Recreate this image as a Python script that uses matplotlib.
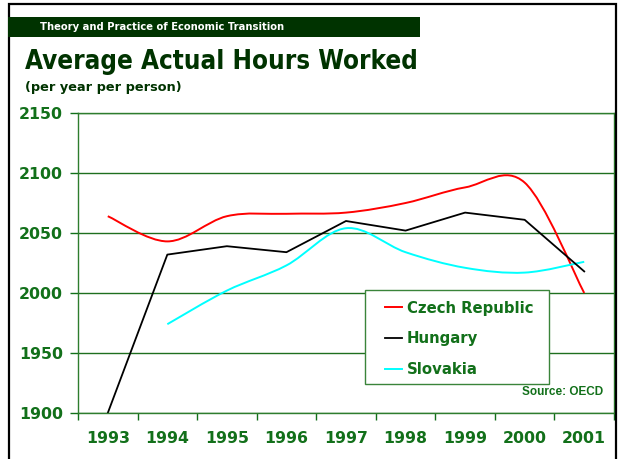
import numpy as np
import matplotlib
matplotlib.use("Agg")
import matplotlib.pyplot as plt
from matplotlib.path import Path
from matplotlib.patches import PathPatch, Rectangle
from matplotlib.lines import Line2D

# data
years = ["1993", "1994", "1995", "1996", "1997", "1998", "1999", "2000", "2001"]
czech = [2064, 2043, 2064, 2066, 2067, 2075, 2088, 2092, 2000]
hungary = [1900, 2032, 2039, 2034, 2060, 2052, 2067, 2061, 2018]
slovakia_years = ["1994", "1995", "1996", "1997", "1998", "1999", "2000", "2001"]
slovakia = [1974, 2002, 2023, 2054, 2034, 2021, 2017, 2026]

GREEN = "#12701a"
DARK = "#003300"


def smooth_path(xs, ys):
    # excel style smoothed line: cubic bezier through every point
    p = np.column_stack([xs, ys]).astype(float)
    n = len(p)
    verts = [p[0]]
    codes = [Path.MOVETO]
    for i in range(n - 1):
        p0 = p[i - 1] if i > 0 else p[i]
        p3 = p[i + 2] if i + 2 < n else p[i + 1]
        c1 = p[i] + (p[i + 1] - p0) / 6
        c2 = p[i + 1] - (p3 - p[i]) / 6
        verts += [c1, c2, p[i + 1]]
        codes += [Path.CURVE4] * 3
    return Path(verts, codes)


fig = plt.figure(figsize=(6.19, 4.59), dpi=100)

# outer frame + banner
fig.patches.append(Rectangle((8.5 / 619, -0.02), (616 - 8.5) / 619, 1.02 - 4 / 459,
                             transform=fig.transFigure, fill=False,
                             edgecolor="black", lw=1.6))
fig.patches.append(Rectangle((8 / 619, 1 - 37 / 459), 412 / 619, 20 / 459,
                             transform=fig.transFigure, color=DARK, lw=0))
fig.text(40 / 619, 1 - 27.5 / 459, "Theory and Practice of Economic Transition",
         color="white", fontsize=8.0, fontweight="bold", va="center",
         fontstretch="condensed")
fig.text(25 / 619, 1 - 62 / 459, "Average Actual Hours Worked",
         color=DARK, fontsize=18.6, fontweight="bold", va="center",
         fontstretch="condensed")
fig.text(25 / 619, 1 - 87 / 459, "(per year per person)",
         color=DARK, fontsize=9.3, fontweight="bold", va="center")

ax = fig.add_axes([78 / 619, 1 - 413 / 459, 536 / 619, 300 / 459])

x = np.arange(len(years))
xs = [years.index(y) for y in slovakia_years]

ax.add_patch(PathPatch(smooth_path(x, czech), fill=False, edgecolor="#ff0000", lw=1.4))
ax.plot(x, hungary, color="black", lw=1.3)
ax.add_patch(PathPatch(smooth_path(xs, slovakia), fill=False, edgecolor="#00ffff", lw=1.4))

ax.set_xlim(-0.5, len(years) - 0.5)
ax.set_ylim(1900, 2150)
ax.set_yticks(np.arange(1900, 2151, 50))
ax.set_xticks(x)
ax.set_xticklabels(years)
ax.set_xticks(np.arange(-0.5, len(years)), minor=True)
ax.tick_params(axis="x", which="major", length=0, pad=13, labelsize=11.3,
               labelcolor=GREEN)
ax.tick_params(axis="x", which="minor", length=5, color=GREEN, width=1)
ax.tick_params(axis="y", length=6, color=GREEN, width=1, pad=5, labelsize=11.3,
               labelcolor=GREEN)
for lab in ax.get_xticklabels() + ax.get_yticklabels():
    lab.set_fontweight("bold")

ax.grid(axis="y", color="#1f6f1f", lw=1)
ax.set_axisbelow(True)
for sp in ax.spines.values():
    sp.set_color("#2e7d2e")
    sp.set_linewidth(1)

# legend box drawn separately so its size matches the original
ax.add_patch(Rectangle((0.5354, 0.0967), 0.3433, 0.3133, transform=ax.transAxes,
                       facecolor="white", edgecolor="#3a843a", lw=1, zorder=4))
handles = [Line2D([], [], color="#ff0000", lw=1.4),
           Line2D([], [], color="black", lw=1.3),
           Line2D([], [], color="#00ffff", lw=1.4)]
leg = ax.legend(handles, ["Czech Republic", "Hungary", "Slovakia"],
                loc="upper left", bbox_to_anchor=(0.5728, 0.375),
                frameon=False, borderpad=0, borderaxespad=0,
                handlelength=1.15, handletextpad=0.3, labelspacing=1.05,
                prop={"weight": "bold", "size": 10.7})
leg.set_zorder(5)
for t in leg.get_texts():
    t.set_color(GREEN)

ax.text(0.98, 0.07, "Source: OECD", transform=ax.transAxes, ha="right",
        va="center", color=GREEN, fontsize=8.5, fontweight="bold",
        family="Liberation Sans")

fig.savefig("out.png", dpi=100)
